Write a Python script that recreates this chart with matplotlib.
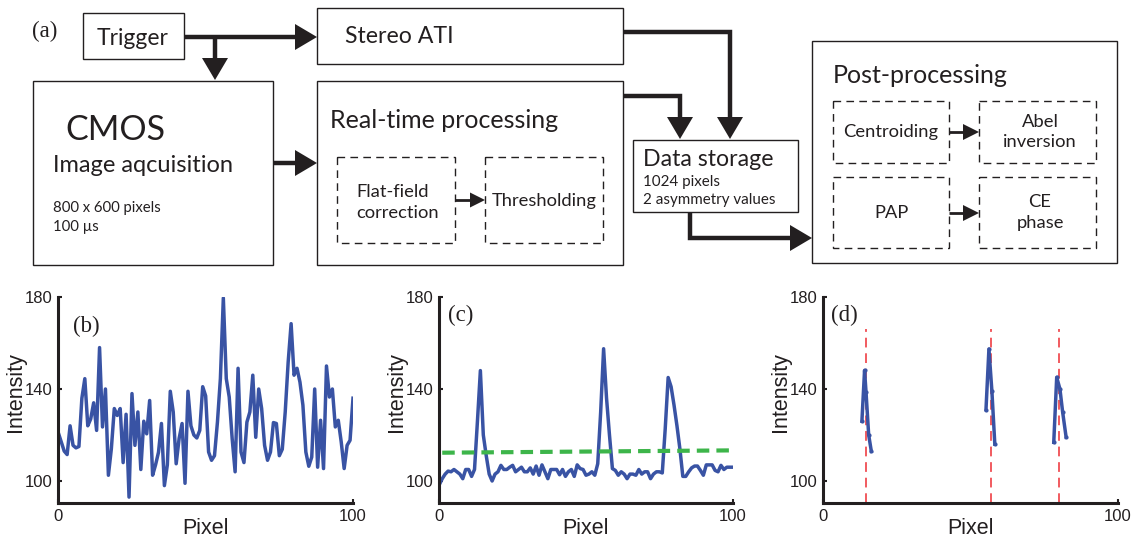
import numpy as np
import matplotlib
matplotlib.use("Agg")
import matplotlib.pyplot as plt
from matplotlib.patches import Rectangle, Polygon

W, H = 1142, 537
INK = "#231f20"
BLUE = "#3953a4"
GREEN = "#3db54a"
RED = "#f15a5f"
BOX_FONT = "Lato"
PLOT_FONT = "Liberation Sans"

# (b) raw line-out, pixel 0..100
raw = [121, 117, 113, 111.5, 124, 115.5, 114.4, 115, 136, 144.5,
       124, 127, 134, 122, 158, 123.5, 140, 102.5, 114, 131.5,
       128.5, 131.5, 108, 129, 93, 138, 115.5, 130, 105, 126,
       120.5, 135, 102.5, 107, 112.5, 125, 98, 107, 139, 130,
       107.5, 118.5, 125, 99, 139, 124, 120, 118.7, 122, 141,
       137, 112.6, 109, 111, 125.6, 144.5, 179.6, 144.5, 136.5, 118.4,
       104, 149, 112.6, 108, 125.6, 130, 146, 119, 140, 131.5,
       115.5, 109, 112.6, 125.4, 125, 111, 113.8, 130, 151.7, 168.4,
       146, 149, 143, 133, 112.6, 106.4, 110.4, 140, 106, 126.4,
       105.4, 150, 136.5, 140, 123.5, 126.4, 117, 105.4, 115.5, 117.7,
       136]

# (c) flat-field corrected line-out
flat = [98.4, 101, 103, 104.3, 104, 105, 104, 103, 101, 105,
        105, 102, 105, 126, 148, 120, 111, 103, 100, 103,
        104, 106.8, 105, 105, 106, 106.8, 104, 105, 106, 104,
        104, 105.7, 103, 106.5, 102.5, 107, 104, 101, 105, 105,
        105, 102.7, 105, 102, 104, 105, 102, 107, 105.4, 105,
        102.5, 103, 104, 102.5, 107.5, 130, 157.5, 136, 120, 105.4,
        104.6, 102.5, 104, 103, 101, 103, 103, 102.5, 105, 103,
        104, 104, 101, 103, 104, 104, 103.5, 122.7, 145, 141,
        133, 124, 114, 102, 102, 104, 105.7, 106.5, 106.5, 104.6,
        102.5, 107, 107, 107, 104.6, 104, 106.8, 105, 106, 106,
        106]
thresh_x = [1, 99]
thresh_y = [112.3, 113.3]

# (d) thresholded peaks and their centroids
peak_x = [[13.1, 14.0, 14.5, 15.4, 16.3],
          [55.2, 56.2, 57.2, 58.2],
          [78.2, 79.2, 80.3, 81.2, 82.4]]
peak_y = [[126, 148.1, 138.6, 120, 112.9],
          [131, 157.4, 139.3, 116],
          [116.8, 145.1, 140, 130.1, 119]]
centroids = [14.6, 56.9, 79.9]
centroid_top = 166

fig = plt.figure(figsize=(W / 100, H / 100), dpi=100)
dia = fig.add_axes([0, 0, 1, 1])
dia.set_xlim(0, W)
dia.set_ylim(H, 0)
dia.axis("off")


def box(x0, y0, x1, y1, dashed=False):
    ls = (0, (5.5, 3.8)) if dashed else "-"
    dia.add_patch(Rectangle((x0, y0), x1 - x0, y1 - y0, fill=False,
                            ec=INK, lw=1.0, ls=ls))


def arrow(pts, lw=3.2, head=22, width=26):
    pts = np.array(pts, float)
    d = pts[-1] - pts[-2]
    d /= np.hypot(*d)
    n = np.array([-d[1], d[0]])
    base = pts[-1] - d * head
    line = np.vstack([pts[:-1], base + d])
    dia.plot(line[:, 0], line[:, 1], color=INK, lw=lw,
             solid_capstyle="butt", solid_joinstyle="miter")
    dia.add_patch(Polygon([pts[-1], base + n * width / 2, base - n * width / 2],
                          closed=True, fc=INK, lw=0))


def label(x, y, s, size, **kw):
    kw.setdefault("va", "baseline")
    dia.text(x, y, s, fontsize=size, family=BOX_FONT, color=INK, **kw)


# solid boxes
box(83, 13, 184, 59)
box(317, 8, 623, 64)
box(33, 81, 273, 265)
box(317, 81, 623, 265)
box(633, 140, 798, 212)
box(812, 41, 1117, 263)
# dashed sub-boxes
box(337, 157, 455, 243, True)
box(485, 157, 603, 243, True)
box(833, 101, 949, 163, True)
box(979, 101, 1096, 163, True)
box(833, 177, 949, 248, True)
box(979, 177, 1096, 248, True)

# thick arrows
arrow([(184, 37), (317, 37)])
arrow([(215, 37), (215, 80)])
arrow([(273, 163), (317, 163)])
arrow([(623, 32), (730, 32), (730, 139)])
arrow([(623, 96), (680, 96), (680, 139)])
arrow([(690, 212), (690, 238), (812, 238)])
# small arrows
arrow([(455, 200), (485, 200)], lw=2, head=15, width=15)
arrow([(949, 132), (979, 132)], lw=2, head=16, width=16)
arrow([(949, 213), (979, 213)], lw=2, head=16, width=16)

# texts
dia.text(45, 31, "(a)", fontsize=16.5, family="Liberation Serif", color=INK,
         ha="center", va="center")
label(133, 45, "Trigger", 16.5, ha="center")
label(345, 43, "Stereo ATI", 16.7)
label(65, 140, "CMOS", 24.5)
label(53, 172, "Image aqcuisition", 17)
label(53, 212, "800 x 600 pixels", 10.7)
label(53, 231, "100 µs", 10.7)
label(330, 128, "Real-time processing", 18)
label(356, 197, "Flat-field", 13.2)
label(356, 218, "correction", 13.2)
label(544, 206, "Thresholding", 13.2, ha="center")
label(643, 166, "Data storage", 16.7)
label(643, 186, "1024 pixels", 10.9)
label(643, 204, "2 asymmetry values", 10.9)
label(833, 83, "Post-processing", 18)
label(891, 137, "Centroiding", 13.2, ha="center")
label(1040, 127, "Abel", 13.2, ha="center")
label(1040, 147, "inversion", 13.2, ha="center")
label(891, 218, "PAP", 13.2, ha="center")
label(1040, 207, "CE", 13.2, ha="center")
label(1040, 228, "phase", 13.2, ha="center")

AX_TOP, AX_BOTTOM = 297, 503.3
Y_LO = 90.3


def panel(left, right, tag, tag_xy):
    ax = fig.add_axes([left / W, (H - AX_BOTTOM) / H,
                       (right - left) / W, (AX_BOTTOM - AX_TOP) / H])
    ax.patch.set_visible(False)
    ax.set_xlim(0, 100)
    ax.set_ylim(Y_LO, 180)
    ax.set_xticks([0, 100])
    ax.set_yticks([100, 140, 180])
    for s in ("top", "right"):
        ax.spines[s].set_visible(False)
    for s in ("left", "bottom"):
        ax.spines[s].set_linewidth(2.2)
        ax.spines[s].set_color(INK)
    ax.tick_params(direction="in", length=3, width=1.5, colors=INK,
                   labelsize=12, pad=4)
    for t in ax.get_xticklabels() + ax.get_yticklabels():
        t.set_family(PLOT_FONT)
    ax.set_xlabel("Pixel", fontsize=15.5, family=PLOT_FONT, color=INK)
    ax.xaxis.set_label_coords(0.5, -0.07)
    ax.set_ylabel("Intensity", fontsize=15.5, family=PLOT_FONT, color=INK)
    ax.yaxis.set_label_coords(-0.11, 0.537)
    dia.text(*tag_xy, tag, fontsize=16.5, family="Liberation Serif", color=INK,
             ha="center", va="center")
    return ax


ax_b = panel(58.3, 353, "(b)", (86, 326))
ax_b.plot(np.arange(len(raw)), raw, color=BLUE, lw=2.5)

ax_c = panel(439.3, 732.7, "(c)", (461, 315))
ax_c.plot(np.arange(len(flat)), flat, color=BLUE, lw=2.5)
ax_c.plot(thresh_x, thresh_y, color=GREEN, lw=3, ls=(0, (3, 1.7)))

ax_d = panel(823.3, 1118, "(d)", (844, 315))
for cx in centroids:
    ax_d.plot([cx, cx], [Y_LO, centroid_top], color=RED, lw=1.4,
              ls=(0, (5, 3)))
for px, py in zip(peak_x, peak_y):
    ax_d.plot(px, py, color=BLUE, lw=2.5, marker=".", ms=4)

fig.savefig("out.png", dpi=100)
